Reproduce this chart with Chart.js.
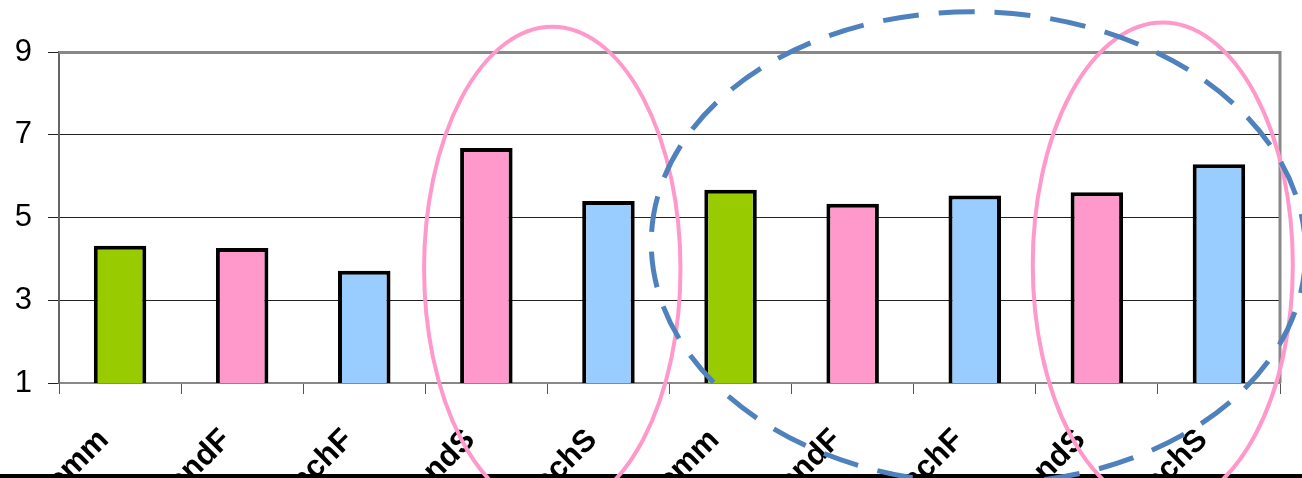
<!DOCTYPE html>
<html>
<head>
<meta charset="utf-8">
<script src="https://cdn.jsdelivr.net/npm/chart.js@4.4.1/dist/chart.umd.min.js"></script>
<style>
  html, body { margin: 0; padding: 0; background: #fff; }
  #wrap { width: 1302px; height: 478px; position: relative; }
  canvas { display: block; }
</style>
</head>
<body>
<div id="wrap"><canvas id="c" width="1302" height="478"></canvas></div>
<script>
// Categories along the x axis
const categories = ['Comm', 'HandF', 'ReachF', 'HandS', 'ReachS', 'Comm', 'HandF', 'ReachF', 'HandS', 'ReachS'];
// Bar heights
const values = [4.32, 4.26, 3.71, 6.68, 5.40, 5.67, 5.33, 5.53, 5.61, 6.29];
// Fill colour per bar
const barColors = ['#99CC00', '#FF99CC', '#99CCFF', '#FF99CC', '#99CCFF',
                   '#99CC00', '#FF99CC', '#99CCFF', '#FF99CC', '#99CCFF'];
// Value axis ticks
const yTicks = [1, 3, 5, 7, 9];

// Highlight ellipses: centre (category index, value), radii (categories, values)
const highlights = [
  { cx: 3.54, cy: 3.76, rx: 1.05, ry: 5.85, color: '#FF99CC', width: 4, dash: [], rot: 0 },
  { cx: 8.54, cy: 3.86, rx: 1.065, ry: 5.85, color: '#FF99CC', width: 4, dash: [], rot: 0 },
  { cx: 7.03, cy: 4.27, rx: 2.68, ry: 5.70, color: '#4F81BD', width: 5, dash: [36, 20], rot: 0.03 }
];

const frame = {
  id: 'frame',
  afterDatasetsDraw(chart) {
    const { ctx, chartArea: a } = chart;
    ctx.save();
    ctx.strokeStyle = '#888888';
    ctx.lineWidth = 3;
    ctx.beginPath();
    ctx.moveTo(a.left, a.top + 0.5);
    ctx.lineTo(a.right, a.top + 0.5);
    ctx.lineTo(a.right, a.bottom);
    ctx.stroke();
    ctx.restore();
  },
  afterDraw(chart) {
    const { ctx } = chart;
    const xs = chart.scales.x, ys = chart.scales.y;
    const unitX = xs.getPixelForValue(1) - xs.getPixelForValue(0);
    const unitY = ys.getPixelForValue(0) - ys.getPixelForValue(1);
    // strip under the axis labels
    ctx.save();
    ctx.fillStyle = '#000';
    ctx.fillRect(0, 474, chart.width, 4);
    ctx.restore();
    highlights.forEach(h => {
      const x0 = xs.getPixelForValue(0);
      ctx.save();
      ctx.strokeStyle = h.color;
      ctx.lineWidth = h.width;
      ctx.setLineDash(h.dash);
      ctx.beginPath();
      ctx.ellipse(x0 + h.cx * unitX, ys.getPixelForValue(h.cy),
                  h.rx * unitX, h.ry * unitY, h.rot, 0, Math.PI * 2);
      ctx.stroke();
      ctx.restore();
    });
  }
};

new Chart(document.getElementById('c'), {
  type: 'bar',
  data: {
    labels: categories,
    datasets: [{
      data: values,
      backgroundColor: barColors,
      borderColor: '#000',
      borderWidth: 4,
      borderSkipped: false,
      barPercentage: 0.43,
      categoryPercentage: 1
    }]
  },
  options: {
    responsive: false,
    animation: false,
    devicePixelRatio: 1,
    layout: { padding: { top: 52, right: 22, left: 0, bottom: 0 } },
    plugins: { legend: { display: false }, tooltip: { enabled: false } },
    scales: {
      x: {
        offset: true,
        grid: { offset: true, drawOnChartArea: false, color: '#555', lineWidth: 1, tickLength: 11 },
        border: { color: '#888', width: 2 },
        ticks: {
          autoSkip: false, minRotation: 45, maxRotation: 45,
          color: '#000', padding: 28, labelOffset: -16,
          font: { family: 'Liberation Sans, Arial, sans-serif', size: 31, weight: 'bold' }
        },
        afterFit(s) { s.height = 95; }
      },
      y: {
        min: 1, max: 9,
        afterBuildTicks(s) { s.ticks = yTicks.map(v => ({ value: v })); },
        grid: { color: '#222', lineWidth: 1, tickLength: 11 },
        border: { color: '#666', width: 2 },
        ticks: {
          color: '#000', padding: 16,
          font: { family: 'Liberation Sans, Arial, sans-serif', size: 31 }
        },
        afterFit(s) { s.width = 59; }
      }
    }
  },
  plugins: [frame]
});
</script>
</body>
</html>
